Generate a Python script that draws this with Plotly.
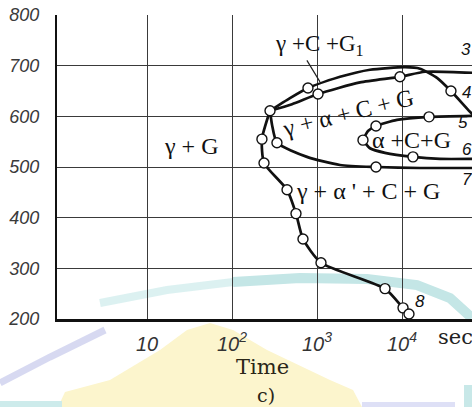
import plotly.graph_objects as go
import math

# ---------------- data (time in s, temperature in deg C) ----------------
c8_t = [280, 225, 238, 444, 566, 684, 1114, 6310, 10280, 12080]
c8_T = [611, 555, 508, 455, 408, 358, 311, 260, 222, 210]

c4_t = [280, 481, 783, 1866, 4207, 10840, 16290, 25820, 37670, 63100, 82800]
c4_T = [611, 636, 656, 678, 692, 697, 694, 676, 650, 609, 589]

c3_t = [280, 508, 1028, 3206, 9462, 18660, 66680]
c3_T = [611, 624, 644, 667, 678, 688, 686]

c7_t = [280, 296, 338, 762, 1866, 4943, 16290, 66680]
c7_T = [611, 583, 548, 520, 504, 500, 498, 498]

c5_t = [3475, 3981, 4943, 8730, 20800, 66680]
c5_T = [553, 571, 581, 593, 599, 601]

c6_t = [3475, 4207, 6310, 13460, 27990, 66680]
c6_T = [553, 537, 528, 520, 516, 516]

pts_t = [280, 225, 238, 444, 566, 684, 1114, 6310, 10280, 12080,
         783, 37670, 1028, 9462, 338, 4943, 3475, 4943, 20800, 13460]
pts_T = [611, 555, 508, 455, 408, 358, 311, 260, 222, 210,
         656, 650, 644, 678, 548, 500, 553, 581, 599, 520]

x_ticks = [10, 100, 1000, 10000]
x_ticktext = ["10", "10<sup>2</sup>", "10<sup>3</sup>", "10<sup>4</sup>"]
y_ticks = [200, 300, 400, 500, 600, 700, 800]
y_ticktext = ["200", "300", "400", "500", "600", "700", "800"]

curve_labels = ["3", "4", "5", "6", "7", "8"]
curve_label_t = [57000, 57000, 52200, 57500, 57500, 16290]
curve_label_T = [731, 648, 587, 534, 475, 234]

region_text = ["γ + G", "γ +C +G<sub>1</sub>", "γ + α + C + G", "α +C+G", "γ + α ' + C + G"]
region_t = [33, 1057, 2317, 13000, 4000]
region_T = [542, 741, 606, 553, 452]
region_angle = [0, 0, -14, 0, 0]
region_size = [24, 23, 24, 24, 24]

# ---------------- layout geometry ----------------
W, H = 472, 407
ML, MR, MT, MB = 57, 0, 15, 88

def P(x, y):
    return ((x - ML) / (W - ML - MR), (H - MB - y) / (H - MT - MB))

def path(pix, close=False):
    s = ""
    for i, (x, y) in enumerate(pix):
        px, py = P(x, y)
        s += ("M" if i == 0 else " L") + f"{px:.4f},{py:.4f}"
    return s + (" Z" if close else "")

fig = go.Figure()

line_style = dict(color="#111111", width=2.7, shape="spline", smoothing=0.6)
for tt, TT in [(c8_t, c8_T), (c4_t, c4_T), (c3_t, c3_T), (c7_t, c7_T), (c5_t, c5_T), (c6_t, c6_T)]:
    fig.add_trace(go.Scatter(x=tt, y=TT, mode="lines", line=line_style,
                             hoverinfo="skip", showlegend=False, cliponaxis=True))

fig.add_trace(go.Scatter(x=pts_t, y=pts_T, mode="markers",
                         marker=dict(symbol="circle", size=10, color="white",
                                     line=dict(color="#111111", width=1.4)),
                         showlegend=False, cliponaxis=False))

# watermark-like background decoration
shapes = [
    dict(type="path", xref="paper", yref="paper", layer="below",
         path=path([(58, 407), (65, 392), (110, 380), (160, 350), (187, 330), (210, 323),
                    (233, 330), (267, 350), (330, 380), (353, 390), (362, 407)], close=True),
         fillcolor="rgb(252,245,205)", line=dict(width=0)),
    dict(type="path", xref="paper", yref="paper", layer="below",
         path=path([(100, 303), (167, 290), (233, 282)]),
         line=dict(color="rgba(205,235,235,0.7)", width=8)),
    dict(type="path", xref="paper", yref="paper", layer="below",
         path=path([(233, 282), (300, 278), (367, 279), (417, 285), (450, 298), (472, 318)]),
         line=dict(color="rgb(196,230,230)", width=10)),
    dict(type="path", xref="paper", yref="paper", layer="below",
         path=path([(0, 383), (50, 357), (105, 330)]),
         line=dict(color="rgba(205,208,238,0.8)", width=7)),
    dict(type="path", xref="paper", yref="paper", layer="below",
         path=path([(0, 404), (62, 404)]),
         line=dict(color="rgb(205,235,235)", width=6)),
    dict(type="path", xref="paper", yref="paper", layer="below",
         path=path([(362, 405), (455, 405)]),
         line=dict(color="rgb(222,224,246)", width=6)),
    dict(type="path", xref="paper", yref="paper", layer="below",
         path=path([(468, 385), (468, 407)]),
         line=dict(color="rgb(200,232,232)", width=8)),
]

annotations = []
for txt, tt, TT, ang, sz in zip(region_text, region_t, region_T, region_angle, region_size):
    annotations.append(dict(x=math.log10(tt), y=TT, xref="x", yref="y", text=txt,
                            showarrow=False, textangle=ang, xanchor="center", yanchor="middle",
                            font=dict(family="Liberation Serif", size=sz, color="#111")))
for txt, tt, TT in zip(curve_labels, curve_label_t, curve_label_T):
    annotations.append(dict(x=math.log10(tt), y=TT, xref="x", yref="y", text=txt,
                            showarrow=False, xanchor="center", yanchor="middle",
                            font=dict(family="Liberation Sans", size=17, color="#111", style="italic")))
# leader line from gamma+C+G1 label
annotations.append(dict(x=math.log10(1084), y=668, xref="x", yref="y", text="",
                        showarrow=True, arrowhead=0, arrowwidth=1.2, arrowcolor="#222",
                        ax=-14, ay=-23))
ps = P(436, 337)
annotations.append(dict(x=ps[0], y=ps[1], xref="paper", yref="paper", text="sec",
                        xanchor="left", yanchor="middle", showarrow=False,
                        font=dict(family="DejaVu Serif", size=21, color="#222")))
pt = P(262, 367)
annotations.append(dict(x=pt[0], y=pt[1], xref="paper", yref="paper", text="Time",
                        xanchor="center", yanchor="middle", showarrow=False,
                        font=dict(family="DejaVu Serif", size=21, color="#2a2618")))
pc = P(266, 395)
annotations.append(dict(x=pc[0], y=pc[1], xref="paper", yref="paper", text="c)",
                        xanchor="center", yanchor="middle", showarrow=False,
                        font=dict(family="DejaVu Serif", size=19, color="#2a2618")))

fig.update_layout(
    width=W, height=H,
    margin=dict(l=ML, r=MR, t=MT, b=MB, pad=0),
    paper_bgcolor="white", plot_bgcolor="rgba(0,0,0,0)",
    shapes=shapes, annotations=annotations,
    xaxis=dict(type="log", range=[-0.0588, 4.8235], tickvals=x_ticks, ticktext=x_ticktext,
               showgrid=True, gridcolor="#3a3a3a", gridwidth=1.4,
               showline=True, linecolor="#111", linewidth=2.5,
               ticks="outside", ticklen=5, tickcolor="rgba(0,0,0,0)",
               tickfont=dict(family="Liberation Sans", size=20, color="#333", style="italic"),
               zeroline=False, fixedrange=True),
    yaxis=dict(range=[200, 800], tickvals=y_ticks, ticktext=y_ticktext,
               showgrid=True, gridcolor="#3a3a3a", gridwidth=1.4,
               showline=True, linecolor="#111", linewidth=2.2,
               ticks="outside", ticklen=12, tickcolor="rgba(0,0,0,0)",
               tickfont=dict(family="Liberation Sans", size=18, color="#3a3a3a", style="italic"),
               zeroline=False, fixedrange=True),
)

fig.write_html("out.html")
